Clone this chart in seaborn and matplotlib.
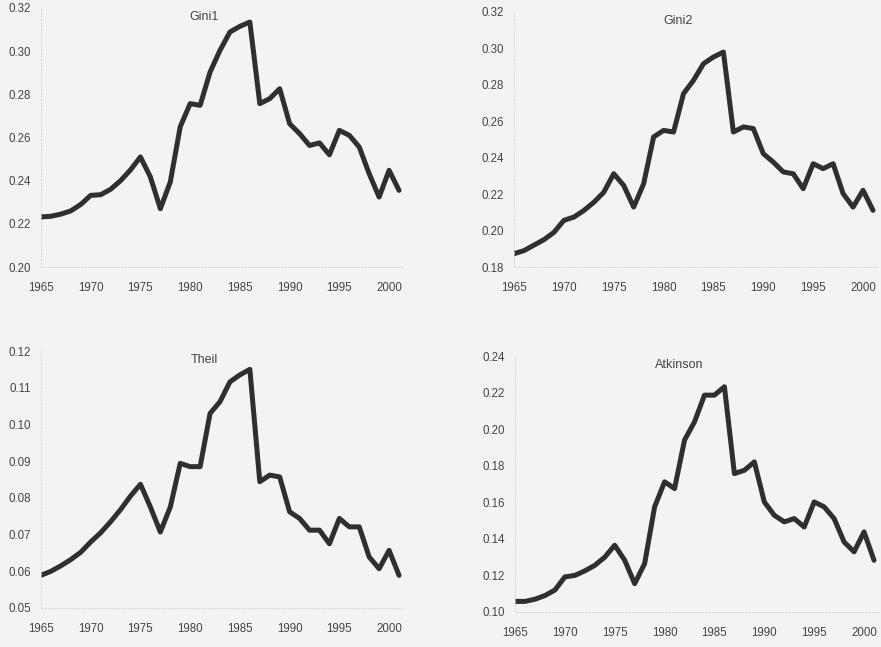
import matplotlib

matplotlib.use("Agg")

import matplotlib.pyplot as plt
import pandas as pd
import seaborn as sns

YEARS = list(range(1965, 2002))

GINI1 = [0.2232, 0.2235, 0.2245, 0.2260, 0.2290, 0.2332, 0.2335, 0.2360, 0.2400,
         0.2450, 0.2510, 0.2417, 0.2270, 0.2394, 0.2650, 0.2757, 0.2749, 0.2903,
         0.3004, 0.3089, 0.3115, 0.3135, 0.2757, 0.2780, 0.2826, 0.2664, 0.2618,
         0.2563, 0.2575, 0.2520, 0.2633, 0.2610, 0.2556, 0.2432, 0.2324, 0.2448,
         0.2355]

GINI2 = [0.1873, 0.1890, 0.1920, 0.1950, 0.1990, 0.2056, 0.2074, 0.2110, 0.2155,
         0.2210, 0.2312, 0.2248, 0.2129, 0.2257, 0.2514, 0.2550, 0.2541, 0.2752,
         0.2825, 0.2916, 0.2953, 0.2980, 0.2541, 0.2569, 0.2560, 0.2422, 0.2376,
         0.2322, 0.2312, 0.2230, 0.2367, 0.2340, 0.2367, 0.2203, 0.2129, 0.2221,
         0.2111]

THEIL = [0.0589, 0.0600, 0.0615, 0.0632, 0.0652, 0.0680, 0.0705, 0.0735, 0.0768,
         0.0805, 0.0837, 0.0775, 0.0707, 0.0775, 0.0894, 0.0885, 0.0885, 0.1030,
         0.1062, 0.1116, 0.1135, 0.1150, 0.0844, 0.0862, 0.0857, 0.0762, 0.0744,
         0.0712, 0.0712, 0.0675, 0.0744, 0.0721, 0.0721, 0.0639, 0.0607, 0.0657,
         0.0589]

ATKINSON = [0.1058, 0.1058, 0.1070, 0.1090, 0.1120, 0.1192, 0.1200, 0.1225, 0.1255,
            0.1300, 0.1365, 0.1283, 0.1155, 0.1265, 0.1575, 0.1712, 0.1675, 0.1940,
            0.2040, 0.2186, 0.2186, 0.2232, 0.1757, 0.1775, 0.1821, 0.1602, 0.1529,
            0.1493, 0.1511, 0.1465, 0.1602, 0.1575, 0.1511, 0.1383, 0.1329, 0.1438,
            0.1283]

X_TICKS = [1965, 1970, 1975, 1980, 1985, 1990, 1995, 2000]

PANELS = [
    ("Gini1", GINI1, (0.20, 0.32), [0.20, 0.22, 0.24, 0.26, 0.28, 0.30, 0.32]),
    ("Gini2", GINI2, (0.18, 0.32), [0.18, 0.20, 0.22, 0.24, 0.26, 0.28, 0.30, 0.32]),
    ("Theil", THEIL, (0.05, 0.12), [0.05, 0.06, 0.07, 0.08, 0.09, 0.10, 0.11, 0.12]),
    ("Atkinson", ATKINSON, (0.10, 0.24), [0.10, 0.12, 0.14, 0.16, 0.18, 0.20, 0.22, 0.24]),
]

# axes boxes in figure fractions (left, bottom, width, height)
W, H = 881, 647
BOXES = [
    (41 / W, 1 - 267 / H, 363 / W, 259 / H),
    (514 / W, 1 - 267 / H, 364 / W, 255 / H),
    (41 / W, 1 - 608 / H, 363 / W, 257 / H),
    (515 / W, 1 - 612 / H, 364 / W, 256 / H),
]

BG = "#f3f3f1"
LINE = "#2f2f2f"
TEXT = "#444444"

sns.set_theme(style="white")
plt.rcParams["font.family"] = ["Liberation Sans", "DejaVu Sans"]

fig = plt.figure(figsize=(8.81, 6.47), dpi=100, facecolor=BG)

for (name, values, ylim, yticks), box in zip(PANELS, BOXES):
    ax = fig.add_axes(box)
    ax.set_facecolor(BG)
    df = pd.DataFrame({"year": YEARS, "value": values})
    sns.lineplot(data=df, x="year", y="value", color=LINE, linewidth=3.6, ax=ax)
    for line in ax.get_lines():
        line.set_solid_joinstyle("round")
        line.set_solid_capstyle("round")

    ax.set_xlim(1965, 2001.5)
    ax.set_ylim(*ylim)
    ax.set_xticks(X_TICKS)
    ax.set_yticks(yticks)
    ax.set_yticklabels([f"{t:.2f}" for t in yticks])
    ax.tick_params(axis="both", length=0, labelsize=8.3, labelcolor=TEXT)
    ax.tick_params(axis="x", pad=11)
    ax.tick_params(axis="y", pad=7)
    ax.set_xlabel("")
    ax.set_ylabel("")

    for side in ["top", "right"]:
        ax.spines[side].set_visible(False)
    for side in ["left", "bottom"]:
        ax.spines[side].set_color("#d6d6d4")
        ax.spines[side].set_linewidth(0.6)
        ax.spines[side].set_linestyle((0, (2, 2)))

    ax.text(0.45, 0.965, name, transform=ax.transAxes, ha="center", va="center",
            fontsize=9, color=TEXT)

fig.savefig("out.png", dpi=100, facecolor=BG)
